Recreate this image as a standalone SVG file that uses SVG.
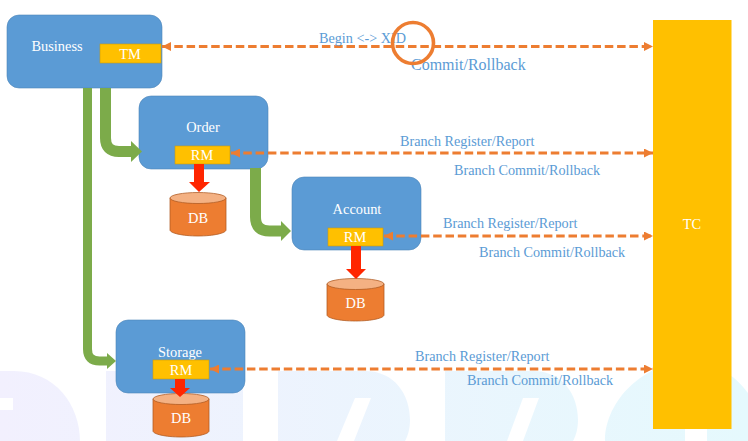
<svg xmlns="http://www.w3.org/2000/svg" width="748" height="441" viewBox="0 0 748 441">
<style>
.box{fill:#5b9bd5;stroke:#4f86b8;stroke-width:.6}
.tag{fill:#ffc000;stroke:#c99a10;stroke-width:.6}
.cyl{fill:#ed7d31;stroke:#ae5a21;stroke-width:.75}
.top{fill:#f4b183;stroke:#ae5a21;stroke-width:.75}
text{font-family:"Liberation Serif","Times New Roman",serif}
.w{fill:#fff;font-size:14.4px;text-anchor:middle}
.b{fill:#5b9bd5;font-size:14.2px}
.dash{fill:none;stroke:#ed7d31;stroke-width:3;stroke-dasharray:8.5 3.8}
.g{fill:none;stroke:#7cab4a}
.gh{fill:#7cab4a}
.red{fill:#ff2600}
</style>
<defs>
<linearGradient id="wm" gradientUnits="userSpaceOnUse" x1="0" y1="0" x2="748" y2="0">
<stop offset="0" stop-color="#f2f0fe"/><stop offset="1" stop-color="#e5f9fd"/>
</linearGradient>
<marker id="ah" viewBox="0 0 9 9" refX="9" refY="4.5" markerUnits="userSpaceOnUse" markerWidth="9" markerHeight="9" orient="auto-start-reverse"><path d="M0 0L9 4.5L0 9Z" fill="#ed7d31"/></marker>
</defs>
<rect width="748" height="441" fill="#fff"/>
<g id="watermark" fill="url(#wm)">
<path d="M0 371H14C55 371 80 405 80 441H0V410H13V398H0Z"/>
<rect x="106" y="371" width="137" height="70"/>
<path d="M278 371H365C395 371 410 395 410 420C410 428 408 436 405 441H354L371 398H355L337 441H278Z"/>
<path d="M445 371H533C563 371 578 395 578 420C578 428 576 436 573 441H523L539 398H523L507 441H445Z"/>
<path d="M605 441C605 400 645 362 688 362C715 362 735 375 748 393V441H707V429H685V441Z"/>
</g>
<g id="business"><rect class="box" x="7" y="15" width="155" height="73" rx="12"/><text class="w" x="57" y="51">Business</text></g>
<g id="tm"><rect class="tag" x="100" y="44" width="61" height="19"/><text class="w" x="130" y="59">TM</text></g>
<g id="order"><rect class="box" x="139" y="96" width="129" height="73" rx="12"/><text class="w" x="203" y="132">Order</text></g>
<g id="order-rm"><rect class="tag" x="175" y="146" width="55" height="18"/><text class="w" x="202" y="160">RM</text></g>
<g id="order-db"><path class="cyl" d="M170 198V230C170 233 182 236 198 236S226 233 226 230V198Z"/><ellipse class="top" cx="198" cy="198" rx="28" ry="5.5"/><text class="w" x="198" y="223">DB</text></g>
<g id="account"><rect class="box" x="292" y="177" width="129" height="73" rx="12"/><text class="w" x="357" y="214">Account</text></g>
<g id="account-rm"><rect class="tag" x="328" y="228" width="55" height="18"/><text class="w" x="355" y="242">RM</text></g>
<g id="account-db"><path class="cyl" d="M327 284V315C327 318 339 321 355.500 321S384 318 384 315V284Z"/><ellipse class="top" cx="355.500" cy="284" rx="28.500" ry="5.500"/><text class="w" x="355.500" y="308">DB</text></g>
<g id="storage"><rect class="box" x="116" y="320" width="129" height="73" rx="12"/><text class="w" x="180" y="357">Storage</text></g>
<g id="storage-rm"><rect class="tag" x="153" y="360" width="56" height="19"/><text class="w" x="181" y="375">RM</text></g>
<g id="storage-db"><path class="cyl" d="M153 399V431C153 434 165 437 181 437S209 434 209 431V399Z"/><ellipse class="top" cx="181" cy="399" rx="28" ry="5.500"/><text class="w" x="181" y="423">DB</text></g>
<g id="tc"><rect x="653" y="20" width="78.500" height="409" fill="#ffc000"/><text class="w" x="692" y="229">TC</text></g>
<g id="connectors">
<path class="g" stroke-width="9" d="M87.500 88V349Q87.500 361 99.500 361H108"/><path class="gh" d="M107 353L116 361L107 369Z"/>
<path class="g" stroke-width="11" d="M105.500 88V138Q105.500 151.500 119 151.500H132"/><path class="gh" d="M131 141L142 151.500L131 162Z"/>
<path class="g" stroke-width="11" d="M255.500 168V217Q255.500 231 269.500 231H282"/><path class="gh" d="M281 221L291 231L281 241Z"/>
<path class="red" d="M194 164H204V182H210L199 192L189 182H194Z"/>
<path class="red" d="M351 246H361V269H366L356 279L346 269H351Z"/>
<path class="red" d="M175 379H185V388H190L180 397L170 388H175Z"/>
<path class="dash" d="M162 46.500H653" marker-start="url(#ah)" marker-end="url(#ah)"/>
<path class="dash" d="M231 153H653" marker-start="url(#ah)" marker-end="url(#ah)"/>
<path class="dash" d="M384 236H653" marker-start="url(#ah)" marker-end="url(#ah)"/>
<path class="dash" d="M210 369H653" marker-start="url(#ah)" marker-end="url(#ah)"/>
</g>
<g id="labels">
<text class="b" x="319" y="43" textLength="87" lengthAdjust="spacingAndGlyphs">Begin &lt;-&gt; XID</text>
<text class="b" x="411" y="70" style="font-size:16px">Commit/Rollback</text>
<text class="b" x="400" y="146">Branch Register/Report</text>
<text class="b" x="454" y="175">Branch Commit/Rollback</text>
<text class="b" x="443" y="228">Branch Register/Report</text>
<text class="b" x="479" y="257">Branch Commit/Rollback</text>
<text class="b" x="415" y="361">Branch Register/Report</text>
<text class="b" x="467" y="385">Branch Commit/Rollback</text>
</g>
<circle id="highlight" cx="413" cy="43" r="20.500" fill="none" stroke="#ed7d31" stroke-width="3.600"/>
</svg>
